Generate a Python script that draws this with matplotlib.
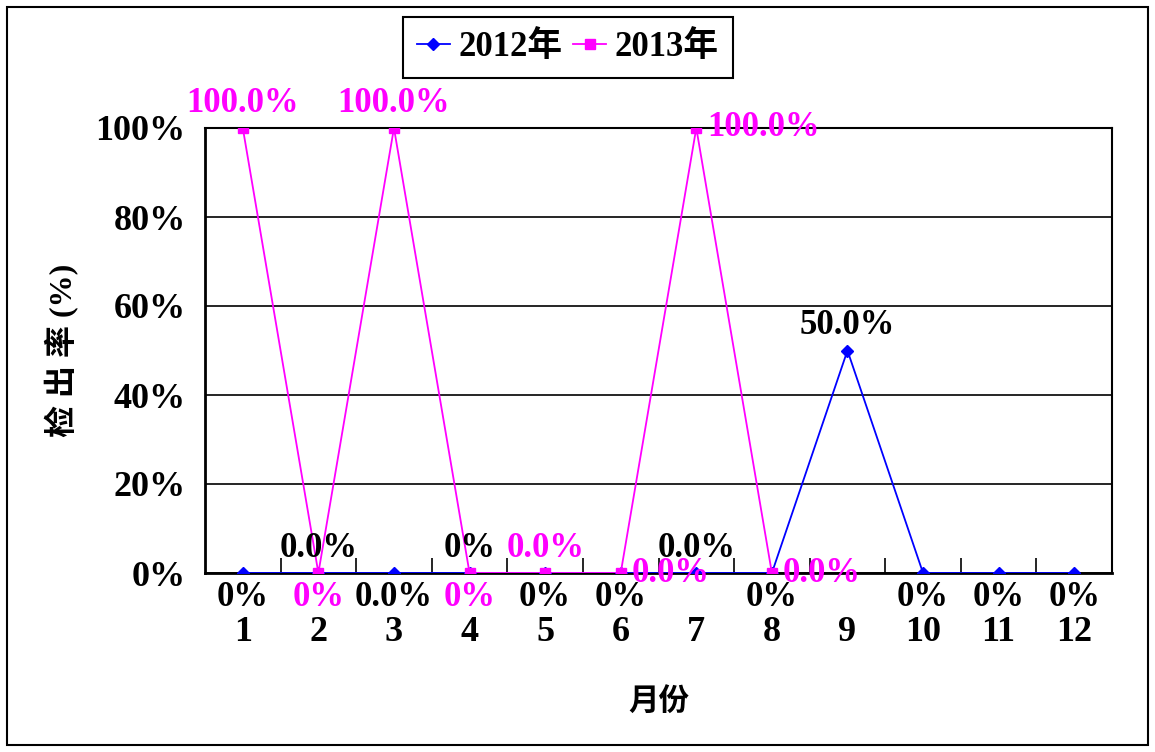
import matplotlib
matplotlib.use('Agg')
import matplotlib.pyplot as plt
from matplotlib.patches import Rectangle
from matplotlib.ticker import FixedLocator

plt.rcParams['font.family'] = ['Liberation Serif', 'Noto Sans CJK SC']
plt.rcParams['font.weight'] = 'bold'

# Monthly detection rates (%)
months = list(range(1, 13))
rate_2012 = [0, 0, 0, 0, 0, 0, 0, 0, 50, 0, 0, 0]
months_2013 = list(range(1, 9))
rate_2013 = [100, 0, 100, 0, 0, 0, 100, 0]

# Data label text and placement
labels_2012 = ['0%', '0.0%', '0.0%', '0%', '0%', '0%', '0.0%', '0%', '50.0%', '0%', '0%', '0%']
place_2012 = ['below', 'above', 'below', 'above', 'below', 'below', 'above', 'below',
              'above', 'below', 'below', 'below']
labels_2013 = ['100.0%', '0%', '100.0%', '0%', '0.0%', '0.0%', '100.0%', '0.0%']
place_2013 = ['above', 'below', 'above', 'below', 'above', 'right', 'right', 'right']

series_names = ['2012年', '2013年']
color_2012 = '#0000ff'
color_2013 = '#ff00ff'
yticks = [0, 20, 40, 60, 80, 100]


# ----------------------------------------------------------------
# Put a data label next to a point
# ----------------------------------------------------------------
def add_label(ax, x, y, text, place, color):
  if place == 'above':
    off, ha, va = (0, 6), 'center', 'bottom'
  elif place == 'below':
    off, ha, va = (0, -6), 'center', 'top'
  else:
    off, ha, va = (8, 0), 'left', 'center'
  ax.annotate(text, (x, y), xytext=off, textcoords='offset points',
              ha=ha, va=va, fontsize=25, color=color, fontweight='bold',
              annotation_clip=False, zorder=5)


fig = plt.figure(figsize=(11.55, 7.52), dpi=100)
ax = fig.add_axes([205 / 1155, 1 - 573 / 752, 907 / 1155, 445 / 752])

ax.plot(months, rate_2012, color=color_2012, lw=1.3, marker='D', ms=6,
        label=series_names[0], zorder=3)
ax.plot(months_2013, rate_2013, color=color_2013, lw=1.3, marker='s', ms=7.5,
        label=series_names[1], zorder=4)

for x, y, t, p in zip(months, rate_2012, labels_2012, place_2012):
  add_label(ax, x, y, t, p, 'black')
for x, y, t, p in zip(months_2013, rate_2013, labels_2013, place_2013):
  add_label(ax, x, y, t, p, color_2013)

ax.set_xlim(0.5, 12.5)
ax.set_ylim(0, 100)
ax.set_yticks(yticks)
ax.set_yticklabels([f'{v}%' for v in yticks], fontsize=26)
ax.yaxis.grid(True, color='black', lw=1.2)
ax.set_axisbelow(True)
ax.tick_params(axis='y', length=0, pad=14)

ax.set_xticks(months)
ax.set_xticklabels([str(m) for m in months], fontsize=26)
ax.tick_params(axis='x', which='major', length=0, pad=31)
ax.xaxis.set_minor_locator(FixedLocator([m + 0.5 for m in months[:-1]]))
ax.tick_params(axis='x', which='minor', direction='in', length=11, width=1.2)

for side in ['left', 'bottom']:
  ax.spines[side].set_linewidth(2)
for side in ['top', 'right']:
  ax.spines[side].set_linewidth(1.5)

ax.set_xlabel('月份', fontsize=22, fontweight='bold', labelpad=28)
ax.set_ylabel('检 出 率 (%)', fontsize=23, fontweight='bold', labelpad=12)

# Legend box above the plot
fig.legend(loc='upper left', bbox_to_anchor=(403 / 1155, 1 - 17 / 752), ncol=2,
           frameon=True, fancybox=False, edgecolor='black', borderaxespad=0,
           handlelength=0.95, handletextpad=0.25, columnspacing=0.3,
           borderpad=0.4, framealpha=1, prop={'weight': 'bold', 'size': 25})
fig.legends[0].get_frame().set_linewidth(1.5)

# Outer frame around the whole chart
fig.patches.append(Rectangle((7 / 1155, 7 / 752), 1141 / 1155, 738 / 752,
                             transform=fig.transFigure, fill=False,
                             edgecolor='black', lw=1.5))

fig.savefig('out.png', dpi=100)
